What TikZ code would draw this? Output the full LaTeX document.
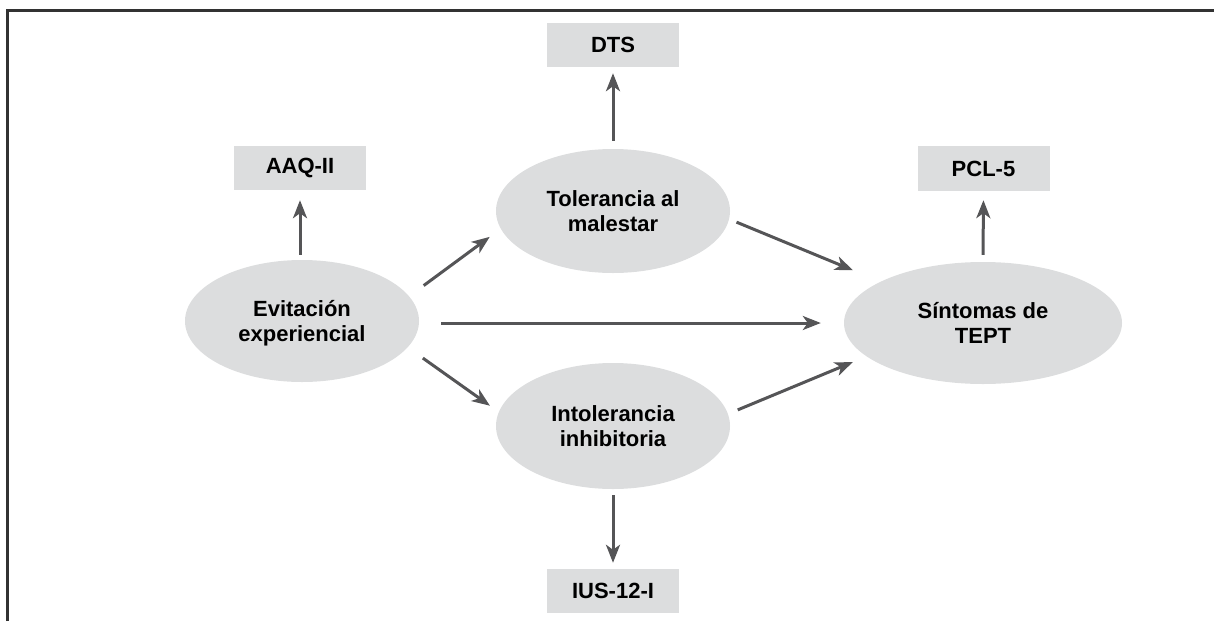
\documentclass[tikz,border=0pt]{standalone}
\usepackage{fontspec}
\setmainfont{Liberation Sans}
\usetikzlibrary{arrows.meta,shapes.geometric}
\definecolor{fillgray}{RGB}{220,221,222}
\definecolor{arrowgray}{RGB}{85,85,87}
\definecolor{framegray}{RGB}{50,50,50}
\begin{document}
\begin{tikzpicture}[x=1pt,y=-1pt,
  every node/.style={font=\fontsize{22}{25.5}\selectfont\bfseries, align=center, inner sep=0pt},
  latent/.style={ellipse, fill=fillgray, minimum width=234pt, minimum height=122pt, text depth=0pt},
  measure/.style={rectangle, fill=fillgray, minimum width=132pt, minimum height=44pt},
  arr/.style={draw=arrowgray, line width=3pt, -{Stealth[length=18pt,width=14pt,inset=5pt]}},
  frame/.style={draw=framegray, line width=2.2pt, line join=miter}]
\useasboundingbox (0,0) rectangle (1214,621);
\draw[frame] (7.5,621) -- (7.5,10.5) -- (1214,10.5);

\node[latent] (evit) at (302,321) {Evitación\\experiencial};
\node[latent, minimum height=124pt] (tol) at (613,211) {Tolerancia al\\malestar};
\node[latent, minimum height=126pt] (intol) at (613,426) {Intolerancia\\inhibitoria};
\node[latent, minimum width=278pt] (sint) at (983,323) {Síntomas de\\TEPT};
\node[measure] (aaq) at (300,168) {AAQ-II};
\node[measure] (dts) at (613,45) {DTS};
\node[measure, minimum height=45pt] (pcl) at (983.5,168.5) {PCL-5};
\node[measure] (ius) at (613,591) {IUS-12-I};

\draw[arr, shorten <=8pt, shorten >=6pt] (tol.north) -- (dts.south);
\draw[arr, shorten <=5pt, shorten >=10pt] (evit.north -| aaq.south) -- (aaq.south);
\draw[arr, shorten <=7pt, shorten >=9pt] (sint.north) -- (pcl.south);
\draw[arr, shorten <=6pt, shorten >=6pt] (intol.south) -- (ius.north);

\draw[arr, shorten <=18pt, shorten >=13.6pt] (evit.13) -- (tol.189);
\draw[arr, shorten <=7.9pt, shorten >=29.8pt] (tol.356) -- (sint.158);
\draw[arr, shorten <=18.5pt, shorten >=10.8pt] (evit.346) -- (intol.173);
\draw[arr, shorten <=10.5pt, shorten >=14.7pt] (intol.6) -- (sint.196);
\draw[arr, shorten <=22pt, shorten >=23pt] (evit.east |- sint.west) -- (sint.west);
\end{tikzpicture}
\end{document}
